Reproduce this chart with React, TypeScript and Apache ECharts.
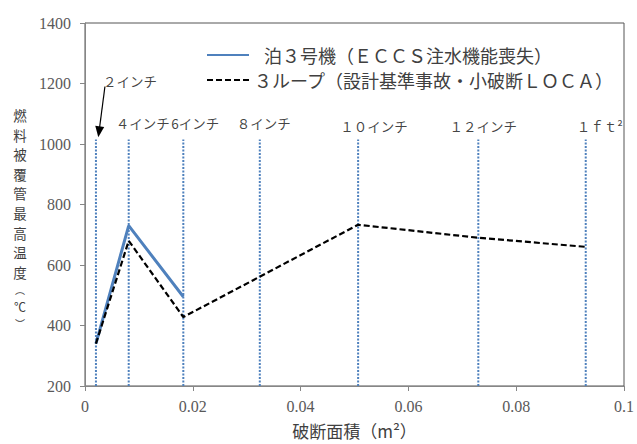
import React, { useEffect, useRef } from "react";
import * as echarts from "echarts";

// Break sizes and their flow areas (m²)
const sizeNames = ["２インチ", "４インチ", "6インチ", "８インチ", "１０インチ", "１２インチ", "１ｆｔ²"];
const breakAreas = [0.00203, 0.00811, 0.01824, 0.03243, 0.05067, 0.07297, 0.0929];

// Peak cladding temperature (°C)
const tomariName = "泊３号機（ＥＣＣＳ注水機能喪失）";
const tomariAreas = [0.00203, 0.00811, 0.01824];
const tomariTemps = [340, 730, 495];

const loopName = "３ループ（設計基準事故・小破断ＬＯＣＡ）";
const loopAreas = [0.00203, 0.00811, 0.01824, 0.05067, 0.07297, 0.0929];
const loopTemps = [340, 680, 428, 733, 690, 660];

// Axis titles
const xTitle = "破断面積（m²）";
const yTitleChars = ["燃", "料", "被", "覆", "管", "最", "高", "温", "度", "︵", "℃", "︶"];

// Vertical reference lines run from the axis floor up to this level
const refFloor = 200;
const refTop = 1015;
// Arrow pointing at the 2-inch line: [area, temp] start and end
const arrowFrom = [0.0037, 1190];
const arrowTo = [0.0026, 1040];

// Label nudges (px) for each size caption
const labelOffsets = [
  [34, -46],
  [14, -4],
  [12, -4],
  [4, -4],
  [16, -1],
  [5, -1],
  [14, -1],
];
// Vertical centres (px) and sizes of the y-axis title glyphs
const yTitleCentres = [115, 134.6, 154.2, 173.8, 193.4, 213, 232.6, 252.2, 271.8, 289, 306, 323];
const yTitleSizes = [13.5, 13.5, 13.5, 13.5, 13.5, 13.5, 13.5, 13.5, 13.5, 10, 12, 10];

const CJK = '"Noto Sans CJK JP", "Noto Sans", sans-serif';
const NUM = '"Liberation Serif", "DejaVu Serif", serif';

export default function App() {
  const ref = useRef<HTMLDivElement>(null);

  useEffect(() => {
    document.body.style.margin = "0";
    const chart = echarts.init(ref.current!, null, { renderer: "svg" });

    // Dotted reference line at each break size
    const refSeries = breakAreas.map((a, i) => ({
      name: sizeNames[i],
      type: "line",
      silent: true,
      symbol: "none",
      z: 1,
      lineStyle: { color: "#4F81BD", width: 2, type: [2, 1.5] },
      data: [
        [a, refFloor],
        [a, refTop],
      ],
      markLine:
        i === 0
          ? {
              silent: true,
              symbol: ["none", "triangle"],
              symbolSize: [9, 11],
              label: { show: false },
              lineStyle: { color: "#000", width: 1.2, type: "solid" },
              data: [[{ coord: arrowFrom }, { coord: arrowTo }]],
            }
          : undefined,
    }));

    // Captions above the reference lines
    const captionSeries = {
      name: "captions",
      type: "scatter",
      silent: true,
      symbol: "circle",
      symbolSize: 1,
      itemStyle: { color: "rgba(0,0,0,0)" },
      z: 5,
      data: breakAreas.map((a, i) => ({
        value: [a, refTop],
        label: {
          show: true,
          position: "top",
          distance: 5,
          formatter: sizeNames[i],
          offset: labelOffsets[i],
          fontFamily: CJK,
          fontSize: 13.5,
          color: "#111",
        },
      })),
    };

    chart.setOption({
      animation: false,
      grid: {
        left: 85,
        right: 12,
        top: 23,
        bottom: 56,
        show: true,
        borderColor: "#555",
        borderWidth: 1,
      },
      legend: {
        orient: "vertical",
        left: 201,
        top: 39,
        itemWidth: 42,
        itemHeight: 14,
        itemGap: 3,
        itemStyle: { opacity: 0, borderWidth: 0 },
        textStyle: { fontFamily: CJK, fontSize: 18, lineHeight: 22, color: "#404040" },
        data: [
          { name: tomariName, textStyle: { padding: [0, 0, 0, 10] } },
          { name: loopName },
        ],
      },
      xAxis: {
        type: "value",
        min: 0,
        max: 0.1,
        interval: 0.02,
        splitLine: { show: false },
        axisLine: { lineStyle: { color: "#868686" } },
        axisTick: { length: 5, lineStyle: { color: "#868686" } },
        axisLabel: {
          margin: 12,
          fontFamily: NUM,
          fontSize: 16,
          color: "#595959",
          formatter: (v: number) => String(parseFloat(v.toFixed(2))),
        },
        name: xTitle,
        nameLocation: "middle",
        nameGap: 36,
        nameTextStyle: { fontFamily: CJK, fontSize: 17, color: "#404040" },
      },
      yAxis: {
        type: "value",
        min: 200,
        max: 1400,
        interval: 200,
        splitLine: { show: false },
        axisLine: { show: true, lineStyle: { color: "#868686" } },
        axisTick: { show: true, length: 5, lineStyle: { color: "#868686" } },
        axisLabel: {
          margin: 14,
          fontFamily: NUM,
          fontSize: 16,
          color: "#595959",
          formatter: (v: number) => String(v),
        },
      },
      graphic: yTitleChars.map((ch, i) => ({
        type: "text",
        x: 20,
        y: yTitleCentres[i],
        silent: true,
        style: {
          text: ch,
          font: `${yTitleSizes[i]}px ${CJK}`,
          lineHeight: yTitleSizes[i],
          fill: "#404040",
          align: "center",
          verticalAlign: "middle",
        },
      })),
      series: [
        ...refSeries,
        captionSeries,
        {
          name: tomariName,
          type: "line",
          symbol: "none",
          z: 3,
          lineStyle: { color: "#4F81BD", width: 3 },
          itemStyle: { color: "#4F81BD" },
          data: tomariAreas.map((a, i) => [a, tomariTemps[i]]),
        },
        {
          name: loopName,
          type: "line",
          symbol: "none",
          z: 4,
          lineStyle: { color: "#000", width: 2.2, type: [6, 3] },
          itemStyle: { color: "#000" },
          data: loopAreas.map((a, i) => [a, loopTemps[i]]),
        },
      ],
    });

    return () => chart.dispose();
  }, []);

  return <div ref={ref} style={{ width: 637, height: 444 }} />;
}
